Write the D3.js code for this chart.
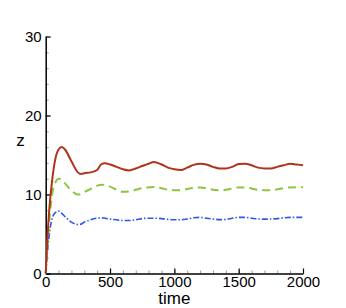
<!DOCTYPE html>
<html>
<head>
<meta charset="utf-8">
<script src="https://cdn.jsdelivr.net/npm/d3@7"></script>
<style>
  body { margin: 0; background: #fff; }
  svg { display: block; font-family: "Liberation Sans", Arial, sans-serif; }
</style>
</head>
<body>
<div id="chart"></div>
<script>
// time samples shared by the three curves
const time = [0, 10, 25, 50, 75, 100, 125, 150, 200, 250, 275, 300, 350, 400, 430, 460, 500,
  550, 600, 650, 700, 750, 800, 840, 900, 950, 1000, 1050, 1100, 1150, 1200, 1250, 1300,
  1350, 1400, 1450, 1500, 1550, 1600, 1650, 1700, 1750, 1800, 1850, 1900, 1950, 2000];

const zRed = [0, 3.5, 7.5, 11.8, 14.5, 15.7, 16.0, 15.7, 14.2, 12.8, 12.6, 12.7, 12.8, 13.1, 13.8, 13.95, 13.8,
  13.5, 13.2, 13.05, 13.3, 13.6, 13.9, 14.1, 13.8, 13.4, 13.2, 13.1, 13.4, 13.75, 13.9, 13.8, 13.5,
  13.3, 13.3, 13.5, 13.85, 13.9, 13.7, 13.4, 13.3, 13.3, 13.5, 13.7, 13.9, 13.8, 13.7];

const zGreen = [0, 2.5, 6, 10, 11.5, 12.0, 11.9, 11.4, 10.5, 10.0, 10.05, 10.3, 10.7, 11.1, 11.25, 11.2, 11.0,
  10.6, 10.35, 10.4, 10.6, 10.8, 10.9, 10.95, 10.8, 10.6, 10.55, 10.55, 10.7, 10.85, 10.9, 10.8, 10.6,
  10.55, 10.6, 10.75, 10.9, 10.9, 10.75, 10.6, 10.55, 10.55, 10.65, 10.8, 10.9, 10.93, 10.93];

const zBlue = [0, 2, 4.5, 7.0, 7.7, 7.9, 7.6, 7.2, 6.5, 6.2, 6.25, 6.5, 6.8, 7.0, 7.05, 7.0, 6.9,
  6.8, 6.7, 6.7, 6.8, 6.95, 7.0, 7.0, 6.95, 6.85, 6.8, 6.8, 6.9, 7.05, 7.1, 7.0, 6.9,
  6.82, 6.85, 7.0, 7.1, 7.1, 7.0, 6.9, 6.88, 6.9, 6.95, 7.05, 7.1, 7.1, 7.1];

const xTicks = [0, 500, 1000, 1500, 2000];
const yTicks = [0, 10, 20, 30];

const width = 346, height = 308;
const margin = { top: 36.5, right: 43, bottom: 34.5, left: 45.7 };

const svg = d3.select("#chart").append("svg")
  .attr("width", width)
  .attr("height", height);

const x = d3.scaleLinear().domain([0, 2000]).range([margin.left, width - margin.right]);
const y = d3.scaleLinear().domain([0, 30]).range([height - margin.bottom, margin.top]);

const fmt = d3.format("d");

// minor ticks first so the axis lines sit on top
svg.append("g")
  .attr("transform", `translate(0,${y(0)})`)
  .call(d3.axisBottom(x).tickValues(d3.range(0, 2001, 100)).tickSizeInner(-3).tickSizeOuter(0).tickFormat(""))
  .call(g => g.select(".domain").remove())
  .call(g => g.selectAll("line").attr("stroke", "#999"));

svg.append("g")
  .attr("transform", `translate(${x(0)},0)`)
  .call(d3.axisLeft(y).tickValues(d3.range(0, 31, 2)).tickSizeInner(-3).tickSizeOuter(0).tickFormat(""))
  .call(g => g.select(".domain").remove())
  .call(g => g.selectAll("line").attr("stroke", "#999"));

// X axis
svg.append("g")
  .attr("transform", `translate(0,${y(0)})`)
  .call(d3.axisBottom(x).tickValues(xTicks).tickFormat(fmt).tickSizeInner(-5).tickSizeOuter(0).tickPadding(3))
  .call(g => g.select(".domain").attr("stroke-width", 1.5))
  .call(g => g.selectAll("line").attr("stroke-width", 1.2))
  .call(g => g.selectAll("text").attr("font-size", 15).attr("fill", "#000").attr("font-family", "Liberation Sans, Arial, sans-serif"));

// Y axis
svg.append("g")
  .attr("transform", `translate(${x(0)},0)`)
  .call(d3.axisLeft(y).tickValues(yTicks).tickFormat(fmt).tickSizeInner(-5).tickSizeOuter(0).tickPadding(4))
  .call(g => g.select(".domain").attr("stroke-width", 1.5))
  .call(g => g.selectAll("line").attr("stroke-width", 1.2))
  .call(g => g.selectAll("text").attr("font-size", 15).attr("fill", "#000").attr("font-family", "Liberation Sans, Arial, sans-serif"));

// axis labels
svg.append("text")
  .attr("x", (x(0) + x(2000)) / 2)
  .attr("y", 304)
  .attr("text-anchor", "middle")
  .attr("font-size", 17)
  .text("time");

svg.append("text")
  .attr("x", 20.5)
  .attr("y", 146)
  .attr("text-anchor", "middle")
  .attr("font-size", 17)
  .text("z");

// curves
const line = d3.line()
  .x(d => x(d[0]))
  .y(d => y(d[1]))
  .curve(d3.curveMonotoneX);

const series = [
  { values: zBlue, color: "#3355e6", width: 1.6, dash: "6,2,1.5,2" },
  { values: zGreen, color: "#8cc63f", width: 2, dash: "8,5" },
  { values: zRed, color: "#b0341a", width: 2, dash: null }
];

series.forEach(s => {
  svg.append("path")
    .datum(time.map((t, i) => [t, s.values[i]]))
    .attr("fill", "none")
    .attr("stroke", s.color)
    .attr("stroke-width", s.width)
    .attr("stroke-dasharray", s.dash)
    .attr("d", line);
});
</script>
</body>
</html>
